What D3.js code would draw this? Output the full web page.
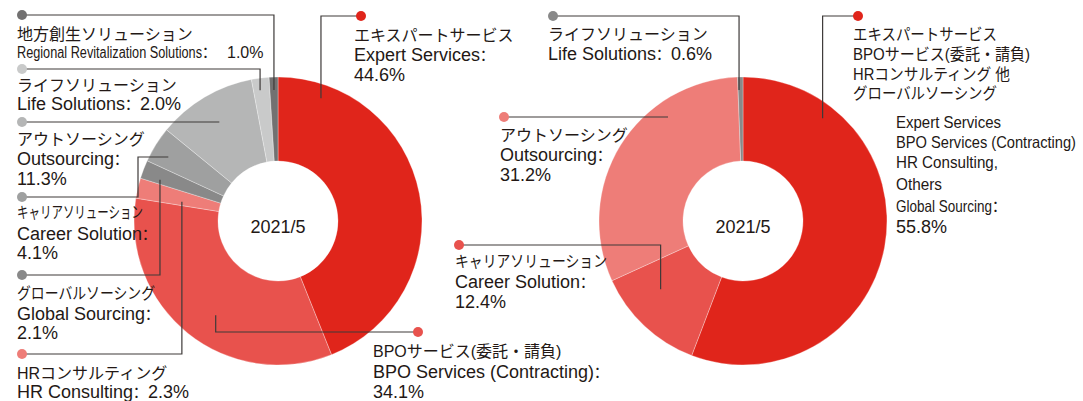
<!DOCTYPE html>
<html>
<head>
<meta charset="utf-8">
<script src="https://cdn.jsdelivr.net/npm/d3@7"></script>
<style>
  body { margin: 0; background: #fff; }
</style>
</head>
<body>
<div id="chart"></div>
<script>
// ---- data: left donut (2021/5, by segment) ----
const leftNamesJa = [
  "エキスパートサービス",
  "BPOサービス(委託・請負)",
  "HRコンサルティング",
  "グローバルソーシング",
  "キャリアソリューション",
  "アウトソーシング",
  "ライフソリューション",
  "地方創生ソリューション"
];
const leftNamesEn = [
  "Expert Services",
  "BPO Services (Contracting)",
  "HR Consulting",
  "Global Sourcing",
  "Career Solution",
  "Outsourcing",
  "Life Solutions",
  "Regional Revitalization Solutions"
];
const leftValues = [44.6, 34.1, 2.3, 2.1, 4.1, 11.3, 2.0, 1.0];

// ---- data: right donut ----
const rightNamesJa = [
  "エキスパートサービス\nBPOサービス(委託・請負)\nHRコンサルティング 他\nグローバルソーシング",
  "キャリアソリューション",
  "アウトソーシング",
  "ライフソリューション"
];
const rightNamesEn = [
  "Expert Services\nBPO Services (Contracting)\nHR Consulting,\nOthers\nGlobal Sourcing",
  "Career Solution",
  "Outsourcing",
  "Life Solutions"
];
const rightValues = [55.8, 12.4, 31.2, 0.6];

const centerLabel = "2021/5";

// slice colours
const leftColors = ["#e0251b", "#e8524d", "#ee7d78", "#898989", "#9fa0a0", "#b5b6b6", "#c9caca", "#727171"];
const rightColors = ["#e0251b", "#e8524d", "#ee7d78", "#898989"];

// label placement (dot, text origin, where the leader meets the slice)
const leftLayout = [
  { dot: [361, 16], x: 354, ys: [41, 61, 81], t: 0.122, r: 130 },
  { dot: [418, 332], x: 373, ys: [357, 378, 398], t: 0.457, r: 113 },
  { dot: [22, 354], x: 17, ys: [379, 398], t: 0.26, r: 98, inline: true },
  { dot: [22, 275], x: 17, ys: [299, 320, 339], t: 0.26, r: 125, jaW: [138] },
  { dot: [22, 197], x: 17, ys: [218, 240, 259], t: 0.38, r: 127, elbow: 138, jaW: [126] },
  { dot: [22, 122], x: 17, ys: [145, 165, 185], t: 0.5, r: 115, type: "h" },
  { dot: [22, 69], x: 17, ys: [91, 110], t: 0.4, r: 132, inline: true },
  { dot: [22, 15], x: 17, ys: [40, 58], t: 0.5, r: 131, inline: true, enSize: 16, enW: [185], colonW: 25 }
];
const rightLayout = [
  { dot: [858, 16], x: 853, enX: 896, ys: [40, 60, 80, 99, 128, 148, 168, 190, 212, 233],
    t: 0.188, r: 130, jaW: [144, 177, 157, 144], enSize: 16.5, enW: [105, 180, 102, 46, 96] },
  { dot: [459, 245], x: 455, ys: [267, 288, 308], t: 0.66, r: 107, jaW: [152] },
  { dot: [504, 117], x: 500, ys: [141, 161, 181], t: 0.70, r: 128, type: "h" },
  { dot: [553, 16], x: 548, ys: [40, 60], t: 0.2, r: 131, inline: true }
];

const width = 1083, height = 401;
const outerR = 144, innerR = 60;
const textColor = "#231815";
const fontFamily = "'Liberation Sans', Arial, 'Noto Sans CJK JP', sans-serif";

const svg = d3.select("#chart")
  .append("svg")
  .attr("width", width)
  .attr("height", height)
  .style("display", "block");

// one text element, parts flow as tspans
function addText(g, x, y, segs, w) {
  const txt = g.append("text")
    .attr("x", x)
    .attr("y", y)
    .style("font-family", fontFamily)
    .attr("fill", textColor);
  segs.forEach(s => {
    txt.append("tspan")
      .attr("dx", s.dx || 0)
      .style("font-size", s.size + "px")
      .text(s.t);
  });
  if (w) txt.attr("textLength", w).attr("lengthAdjust", "spacingAndGlyphs");
  return txt;
}

function drawDonut(cx, cy, values, namesJa, namesEn, colors, layout) {
  const g = svg.append("g");
  const arcs = d3.pie().sort(null).value(d => d)(values);
  const arc = d3.arc().innerRadius(innerR).outerRadius(outerR);

  // slices
  g.selectAll("path.slice")
    .data(arcs)
    .enter().append("path")
    .attr("class", "slice")
    .attr("transform", "translate(" + cx + "," + cy + ")")
    .attr("d", arc)
    .attr("fill", (d, i) => colors[i])
    .attr("stroke", "#fff")
    .attr("stroke-width", 0.6)
    .attr("stroke-opacity", 0.5);

  g.append("text")
    .attr("x", cx)
    .attr("y", cy + 12)
    .attr("text-anchor", "middle")
    .style("font-family", fontFamily)
    .style("font-size", "18px")
    .attr("fill", textColor)
    .text(centerLabel);

  function pointOn(a, t, r) {
    const ang = a.startAngle + t * (a.endAngle - a.startAngle);
    return [cx + r * Math.sin(ang), cy - r * Math.cos(ang)];
  }

  arcs.forEach((a, i) => {
    const L = layout[i];
    const end = pointOn(a, L.t, L.r);
    let pts;
    if (L.type === "h") pts = [L.dot, [end[0], L.dot[1]]];
    else if (L.elbow != null) pts = [L.dot, [L.elbow, L.dot[1]], [L.elbow, end[1]], end];
    else pts = [L.dot, [end[0], L.dot[1]], end];

    // leader line
    g.append("path")
      .attr("d", d3.line()(pts))
      .attr("fill", "none")
      .attr("stroke", "#3e3a39")
      .attr("stroke-width", 1.2);

    g.append("circle")
      .attr("cx", L.dot[0])
      .attr("cy", L.dot[1])
      .attr("r", 5)
      .attr("fill", colors[i]);

    const pct = values[i].toFixed(1) + "%";
    const enSize = L.enSize || 18;
    const enX = L.enX || L.x;
    const ja = namesJa[i].split("\n");
    const en = namesEn[i].split("\n");
    let k = 0;

    ja.forEach((s, j) => {
      addText(g, L.x, L.ys[k++], [{ t: s, size: 16 }], L.jaW ? L.jaW[j] : null);
    });

    en.forEach((s, j) => {
      const y = L.ys[k++];
      const w = L.enW ? L.enW[j] : null;
      const tail = [];
      if (j === en.length - 1) {
        tail.push({ t: "：", size: 15, dx: -4 });
        if (L.inline) tail.push({ t: pct, size: enSize, dx: (L.colonW || 15) - 11 });
      }
      if (w) {
        addText(g, enX, y, [{ t: s, size: enSize }], w);
        if (tail.length) addText(g, enX + w, y, tail);
      } else {
        addText(g, enX, y, [{ t: s, size: enSize }].concat(tail));
      }
    });

    if (!L.inline) addText(g, enX, L.ys[k++], [{ t: pct, size: 18 }]);
  });
}

drawDonut(278, 221, leftValues, leftNamesJa, leftNamesEn, leftColors, leftLayout);
drawDonut(743, 221, rightValues, rightNamesJa, rightNamesEn, rightColors, rightLayout);
</script>
</body>
</html>
